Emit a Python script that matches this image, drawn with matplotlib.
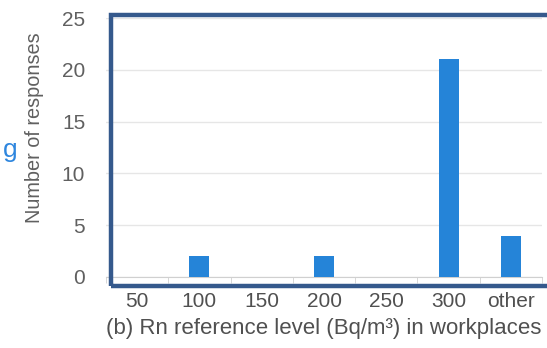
import matplotlib
matplotlib.use("Agg")
import matplotlib.pyplot as plt
from matplotlib.patches import Rectangle

categories = ["50", "100", "150", "200", "250", "300", "other"]
responses = [0, 2, 0, 2, 0, 21, 4]
yticks = [0, 5, 10, 15, 20, 25]

plt.rcParams['font.family'] = ['Liberation Sans', 'DejaVu Sans']

W, H = 547, 348
fig = plt.figure(figsize=(W/100, H/100), dpi=100)
ax = fig.add_axes([106/W, 1-277/H, (542-106)/W, (277-18)/H])

x = list(range(len(categories)))
ax.bar(x, responses, width=0.32, color='#2584D8', zorder=3)
ax.set_xlim(-0.5, len(categories)-0.5)
ax.set_ylim(0, 25)
ax.set_yticks(yticks)
ax.set_xticks(x)
ax.set_xticklabels(categories)
for s in ['top', 'right', 'left']:
    ax.spines[s].set_visible(False)
ax.spines['bottom'].set_color('#d0d0d0')
ax.yaxis.grid(True, color='#e6e6e6', linewidth=1, zorder=0)
ax.tick_params(axis='y', length=0, pad=15, labelsize=15, labelcolor='#606060')
ax.tick_params(axis='x', length=0, pad=11, labelsize=15, labelcolor='#505050')
ax.set_xticks([i + 0.5 for i in range(-1, len(categories))], minor=True)
ax.tick_params(axis='x', which='minor', length=4, color='#d0d0d0')
ax.set_ylabel("Number of responses", fontsize=14.3, color='#606060')
ax.yaxis.set_label_coords(-62/436, 0.575)
ax.set_xlabel("(b) Rn reference level (Bq/m³) in workplaces", fontsize=16,
              color='#505050', labelpad=5)

fig.patches.append(Rectangle((111/W, 1-286/H), (560-111)/W, (286-15)/H,
                             transform=fig.transFigure, fill=False,
                             edgecolor='#35598C', linewidth=3.2, zorder=10))
fig.text(3/W, 1-150/H, "g", fontsize=19, color='#2E86DE', va='center', ha='left')

fig.savefig("out.png", dpi=100)
